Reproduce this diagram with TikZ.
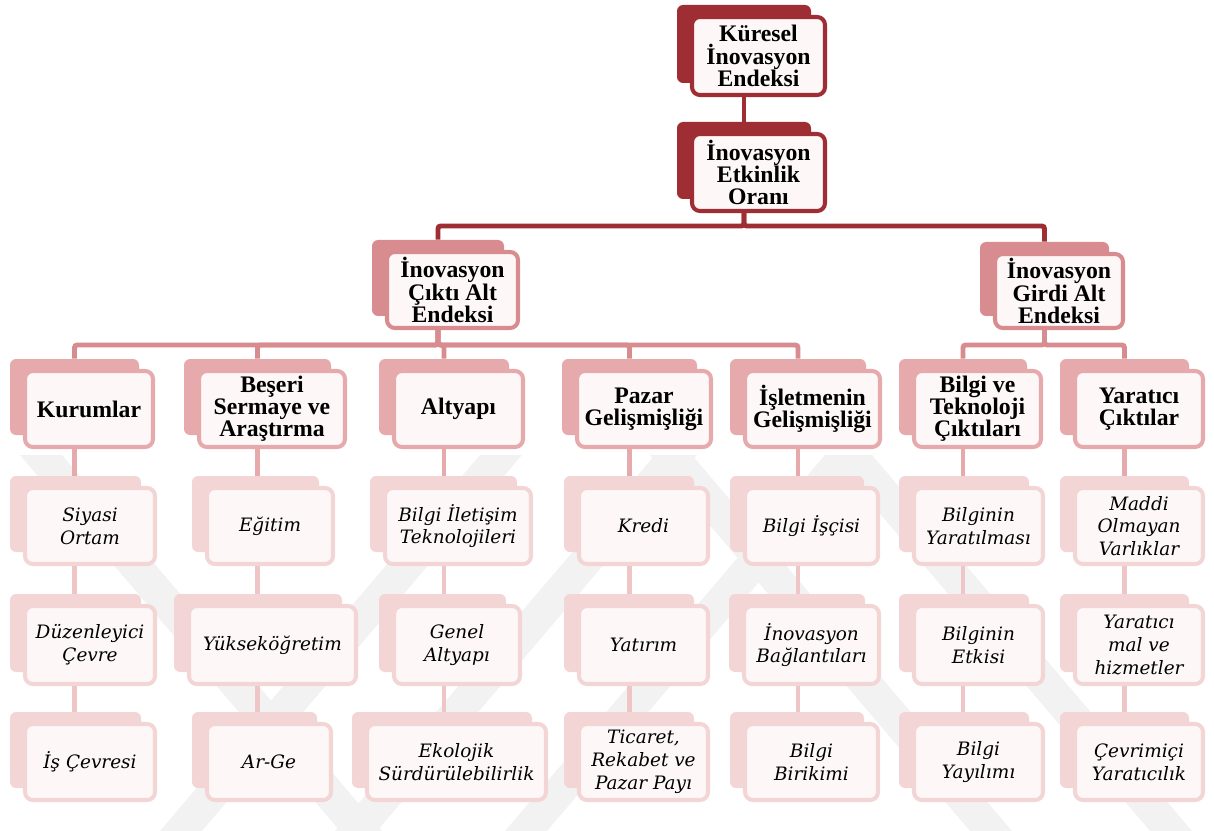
\documentclass[tikz,border=0pt]{standalone}
\usepackage{fontspec}
\setmainfont{Liberation Serif}
\newfontfamily\itfont{DejaVu Serif}
\usetikzlibrary{calc}
\pgfdeclarelayer{wm}
\pgfdeclarelayer{bg}
\pgfsetlayers{wm,bg,main}
\definecolor{cA}{RGB}{158,46,51}
\definecolor{cB}{RGB}{217,140,143}
\definecolor{cC}{RGB}{231,170,172}
\definecolor{cD}{RGB}{243,213,214}
\definecolor{cDl}{RGB}{238,198,200}
\definecolor{fillw}{RGB}{253,247,247}
\definecolor{wmgray}{RGB}{242,242,242}
\newcommand\boldtxt{\bfseries\fontsize{13.5pt}{12.6pt}\selectfont}
\newcommand\ittxt{\itfont\itshape\fontsize{10.5pt}{13pt}\selectfont}
\tikzset{
  frontbase/.style={fill=fillw, line width=2.3pt, rounded corners=4.5pt, inner sep=0pt, align=center, text=black},
  frontA/.style={frontbase, draw=cA, font=\boldtxt},
  frontB/.style={frontbase, draw=cB, font=\boldtxt},
  frontC/.style={frontbase, draw=cC, font=\boldtxt},
  frontD/.style={frontbase, draw=cD, font=\ittxt},
  backbase/.style={rounded corners=3.5pt, inner sep=0pt},
  backA/.style={backbase, fill=cA},
  backB/.style={backbase, fill=cB},
  backC/.style={backbase, fill=cC},
  backD/.style={backbase, fill=cD},
  connbase/.style={line width=2.8pt, rounded corners=1.5pt},
  connA/.style={connbase, draw=cA},
  connB/.style={connbase, draw=cB},
  connC/.style={connbase, draw=cC},
  connD/.style={connbase, draw=cDl},
  wmband/.style={fill=wmgray},
}
% name, cx, cy, w, h, level, text
\newcommand\mkbox[7]{%
  \node[back#6, minimum width={(#4-3)*0.02cm}, minimum height={(#5-4)*0.02cm}] (#1-b) at ({#2-14.5},{#3-12}) {};
  \node[front#6, minimum width={(#4-4)*0.02cm}, minimum height={(#5-4)*0.02cm}] (#1) at (#2,#3) {#7};
}
\begin{document}
\begin{tikzpicture}[x={(0.02cm,0)}, y={(0,-0.02cm)}]
\useasboundingbox (0,0) rectangle (1214,831);
\coordinate (bar1) at (0,226);
\coordinate (bar2) at (0,345);

% faint watermark bands
\begin{pgfonlayer}{wm}
  \begin{scope}
    \clip (0,455) rectangle (1214,831);
    \foreach \bx in {160,335,505}
      \fill[wmband] (\bx,831) -- ({\bx+42},831) -- ({\bx+362},455) -- ({\bx+320},455) -- cycle;
    \foreach \tx in {20,650,830}
      \fill[wmband] (\tx,455) -- ({\tx+42},455) -- ({\tx+362},831) -- ({\tx+320},831) -- cycle;
  \end{scope}
\end{pgfonlayer}

\mkbox{kie}{758.5}{56}{137}{82}{A}{Küresel\\İnovasyon\\Endeksi}
\mkbox{ieo}{758.5}{172.5}{137}{81}{A}{İnovasyon\\Etkinlik\\Oranı}
\mkbox{cikti}{452.5}{290}{135}{80}{B}{İnovasyon\\Çıktı Alt\\Endeksi}
\mkbox{girdi}{1059}{291}{132}{78}{B}{İnovasyon\\Girdi Alt\\Endeksi}

\mkbox{kur}{89}{409}{132}{80}{C}{Kurumlar}
\mkbox{bes}{272}{409}{150}{80}{C}{Beşeri\\Sermaye ve\\Araştırma}
\mkbox{alt}{458.5}{409}{133}{80}{C}{Altyapı}
\mkbox{paz}{644}{409}{138}{80}{C}{Pazar\\Gelişmişliği}
\mkbox{isl}{812.5}{409}{139}{80}{C}{İşletmenin\\Gelişmişliği}
\mkbox{bil}{977.5}{409}{131}{80}{C}{Bilgi ve\\Teknoloji\\Çıktıları}
\mkbox{yar}{1139}{409}{132}{80}{C}{Yaratıcı\\Çıktılar}

% column 1
\mkbox{k1}{90}{526}{134}{80}{D}{Siyasi\\Ortam}
\mkbox{k2}{90}{645}{134}{82}{D}{Düzenleyici\\Çevre}
\mkbox{k3}{90}{762}{134}{80}{D}{İş Çevresi}
% column 2
\mkbox{b1}{270}{526}{130}{80}{D}{Eğitim}
\mkbox{b2}{272.5}{645}{171}{82}{D}{Yükseköğretim}
\mkbox{b3}{269}{762}{128}{80}{D}{Ar-Ge}
% column 3
\mkbox{a1}{458}{526}{150}{80}{D}{Bilgi İletişim\\Teknolojileri}
\mkbox{a2}{457}{645}{130}{82}{D}{Genel\\Altyapı}
\mkbox{a3}{456.5}{762}{183}{80}{D}{Ekolojik\\Sürdürülebilirlik}
% column 4
\mkbox{p1}{643.5}{526}{133}{80}{D}{Kredi}
\mkbox{p2}{643.5}{645}{133}{82}{D}{Yatırım}
\mkbox{p3}{643.5}{762}{133}{80}{D}{Ticaret,\\Rekabet ve\\Pazar Payı}
% column 5
\mkbox{i1}{811.5}{526}{137}{80}{D}{Bilgi İşçisi}
\mkbox{i2}{811.5}{645}{139}{82}{D}{İnovasyon\\Bağlantıları}
\mkbox{i3}{811.5}{762}{137}{80}{D}{Bilgi\\Birikimi}
% column 6
\mkbox{t1}{978.5}{526}{133}{80}{D}{Bilginin\\Yaratılması}
\mkbox{t2}{978.5}{645}{133}{82}{D}{Bilginin\\Etkisi}
\mkbox{t3}{978.5}{762}{133}{80}{D}{Bilgi\\Yayılımı}
% column 7
\mkbox{y1}{1139}{526}{132}{80}{D}{Maddi\\Olmayan\\Varlıklar}
\mkbox{y2}{1139}{645}{132}{82}{D}{Yaratıcı\\mal ve\\hizmetler}
\mkbox{y3}{1139}{762}{132}{80}{D}{Çevrimiçi\\Yaratıcılık}

\begin{pgfonlayer}{bg}
  \draw[connA] (kie-b |- kie.south) -- (kie-b |- ieo-b.north);
  \foreach \c in {cikti,girdi}
    \draw[connA] (ieo-b |- ieo.south) -- (ieo-b |- bar1) -| (\c-b.north);
  \foreach \c in {kur,bes,alt,paz,isl}
    \draw[connB] (cikti-b |- cikti.south) -- (cikti-b |- bar2) -| (\c-b.north);
  \foreach \c in {bil,yar}
    \draw[connB] (girdi-b |- girdi.south) -- (girdi-b |- bar2) -| (\c-b.north);
  \foreach \p/\a/\b/\c in {kur/k1/k2/k3, bes/b1/b2/b3, alt/a1/a2/a3, paz/p1/p2/p3, isl/i1/i2/i3, bil/t1/t2/t3, yar/y1/y2/y3}{
    \draw[connC] (\p-b |- \p.south) -- (\p-b |- \a-b.north);
    \draw[connD] (\p-b |- \a.south) -- (\p-b |- \b-b.north);
    \draw[connD] (\p-b |- \b.south) -- (\p-b |- \c-b.north);
  }
\end{pgfonlayer}
\end{tikzpicture}
\end{document}
